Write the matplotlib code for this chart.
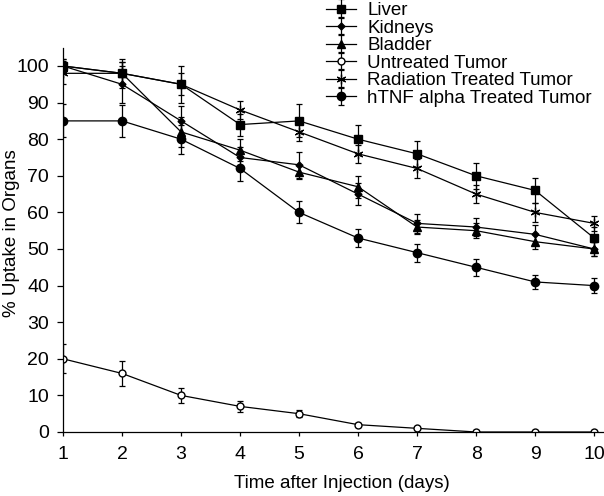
import matplotlib
matplotlib.use("Agg")
import matplotlib.pyplot as plt

plt.rcParams['font.family'] = ['Liberation Sans', 'DejaVu Sans']

days = [1, 2, 3, 4, 5, 6, 7, 8, 9, 10]

liver = [100, 98, 95, 84, 85, 80, 76, 70, 66, 53]
liver_err = [1.5, 3, 5, 3, 4.5, 4, 3.5, 3.5, 3.5, 3]

kidneys = [100, 95, 85, 75, 73, 65, 57, 56, 54, 50]
kidneys_err = [2, 5, 4, 3, 3.5, 3, 2.5, 2.5, 2.5, 2]

bladder = [100, 98, 82, 77, 71, 67, 56, 55, 52, 50]
bladder_err = [2, 4, 4, 3, 2, 3, 2, 2, 2, 2]

untreated = [20, 16, 10, 7, 5, 2, 1, 0, 0, 0]
untreated_err = [4, 3.3, 2, 1.5, 1, 0.5, 0.5, 0.5, 0.5, 0.5]

radiation = [98, 98, 95, 88, 82, 76, 72, 65, 60, 57]
radiation_err = [3, 3, 3, 2.5, 2.5, 2.5, 2.5, 2.5, 2.5, 2]

htnf = [85, 85, 80, 72, 60, 53, 49, 45, 41, 40]
htnf_err = [4.5, 4.3, 4, 3.5, 3, 2.5, 2.5, 2.3, 2, 2]

labels = ["Liver", "Kidneys", "Bladder", "Untreated Tumor",
          "Radiation Treated Tumor", "hTNF alpha Treated Tumor"]

series = [
    (liver, liver_err, dict(marker='s', ms=5.5, mfc='black')),
    (kidneys, kidneys_err, dict(marker='D', ms=3.5, mfc='black')),
    (bladder, bladder_err, dict(marker='^', ms=5.5, mfc='black')),
    (untreated, untreated_err, dict(marker='o', ms=5, mfc='white')),
    (radiation, radiation_err, dict(marker=(6, 2, 0), ms=7, mfc='black', mew=0.9)),
    (htnf, htnf_err, dict(marker='o', ms=6, mfc='black')),
]

fig = plt.figure(figsize=(6.04, 4.96), dpi=100)
ax = fig.add_axes([63/604, 64/496, 540/604, 384.3/496])

handles = []
for (vals, errs, st), lab in zip(series, labels):
    h = ax.errorbar(days, vals, yerr=errs, color='black', lw=0.9, elinewidth=0.9,
                    capsize=2.5, capthick=0.9, mec='black', label=lab, **st)
    handles.append(h)

ax.set_xlim(1, 10.15)
ax.set_ylim(0, 105)
ax.set_xticks(days)
ax.set_yticks(range(0, 101, 10))
ax.spines['top'].set_visible(False)
ax.spines['right'].set_visible(False)
ax.spines['left'].set_linewidth(0.9)
ax.spines['bottom'].set_linewidth(0.9)
ax.tick_params(axis='x', direction='out', length=3, width=0.9, labelsize=14, pad=7)
ax.tick_params(axis='y', direction='out', length=4, width=0.9, labelsize=14, pad=6)
ax.set_xlabel("Time after Injection (days)", fontsize=13.5)
ax.set_ylabel("% Uptake in Organs", fontsize=13.5)
ax.xaxis.set_label_coords(0.517, -0.112)
ax.yaxis.set_label_coords(-0.08, 0.518)

leg = ax.legend(handles=handles, labels=labels, loc='upper left',
                bbox_to_anchor=(326/604, 1.0 - 2/496), bbox_transform=fig.transFigure,
                frameon=False, fontsize=13.5, labelspacing=0.02, handlelength=1.6,
                handletextpad=0.6, borderpad=0.0, borderaxespad=0.0)

fig.savefig("out.png", dpi=100)
